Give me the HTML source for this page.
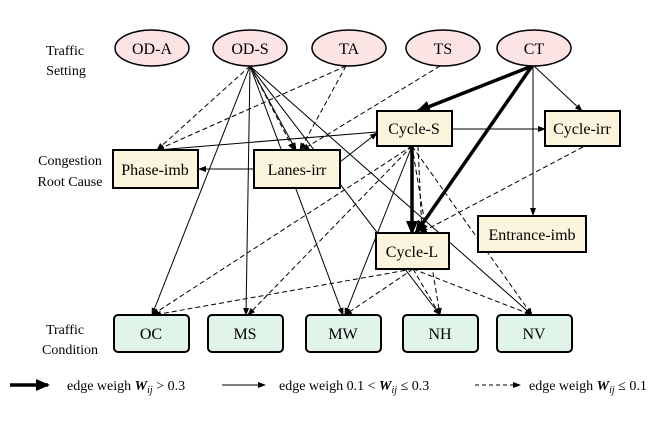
<!DOCTYPE html>
<html><head><style>body{margin:0;background:#fff}svg{display:block}text{font-family:"Liberation Serif",serif}</style></head>
<body>
<svg width="665" height="439" viewBox="0 0 665 439" xmlns="http://www.w3.org/2000/svg">
<defs>
<marker id="a" markerWidth="8" markerHeight="8" refX="7" refY="4" orient="auto" markerUnits="userSpaceOnUse"><path d="M0,1 L8,4 L0,7z" fill="#000"/></marker>
<marker id="b" markerWidth="14" markerHeight="12" refX="12" refY="6" orient="auto" markerUnits="userSpaceOnUse"><path d="M0,0 L14,6 L0,12z" fill="#000"/></marker>
</defs>
<g stroke="#000" stroke-width="1" fill="none" marker-end="url(#a)">
<line x1="534" y1="66" x2="582" y2="111"/>
<line x1="533" y1="66" x2="533" y2="215"/>
<line x1="452" y1="129" x2="545" y2="129"/>
<line x1="377" y1="132" x2="157" y2="150"/>
<line x1="254" y1="169" x2="199" y2="169"/>
<line x1="340" y1="162" x2="377" y2="133"/>
<line x1="250" y1="66" x2="152" y2="315"/>
<line x1="250" y1="66" x2="246" y2="315"/>
<line x1="250" y1="66" x2="296" y2="150"/>
<line x1="250" y1="66" x2="343" y2="315"/>
<line x1="250" y1="66" x2="440" y2="315"/>
<line x1="250" y1="66" x2="532" y2="315"/>
<line x1="412" y1="146" x2="345" y2="315"/>
</g>
<g stroke="#000" stroke-width="1" fill="none" stroke-dasharray="5,3" marker-end="url(#a)">
<line x1="250" y1="66" x2="157" y2="150"/>
<line x1="346" y1="66" x2="157" y2="150"/>
<line x1="346" y1="66" x2="300" y2="150"/>
<line x1="440" y1="66" x2="302" y2="150"/>
<line x1="250" y1="66" x2="294" y2="150"/>
<line x1="412" y1="146" x2="152" y2="315"/>
<line x1="412" y1="146" x2="248" y2="315"/>
<line x1="412" y1="146" x2="440" y2="315"/>
<line x1="412" y1="146" x2="532" y2="315"/>
<line x1="418" y1="146" x2="422" y2="233"/>
<line x1="583" y1="147" x2="420" y2="233"/>
<line x1="413" y1="269" x2="154" y2="315"/>
<line x1="413" y1="269" x2="345" y2="315"/>
<line x1="413" y1="269" x2="440" y2="315"/>
<line x1="413" y1="269" x2="532" y2="315"/>
</g>
<g stroke="#000" stroke-width="3.5" fill="none" marker-end="url(#b)">
<line x1="532" y1="66" x2="418" y2="111"/>
<line x1="532" y1="66" x2="416" y2="233"/>
<line x1="412" y1="146" x2="412" y2="233"/>
</g>
<g stroke="#000" stroke-width="1.5" fill="#fce4e4">
<ellipse cx="152" cy="48" rx="37" ry="18"/>
<ellipse cx="250" cy="48" rx="37" ry="18"/>
<ellipse cx="349" cy="48" rx="37" ry="18"/>
<ellipse cx="443" cy="48" rx="37" ry="18"/>
<ellipse cx="534" cy="48" rx="37" ry="18"/>
</g>
<g stroke="#000" stroke-width="2" fill="#fdf4dd">
<rect x="377" y="111" width="75" height="35"/>
<rect x="545" y="111" width="75" height="35"/>
<rect x="113" y="150" width="85" height="38"/>
<rect x="254" y="150" width="86" height="38"/>
<rect x="478" y="216" width="108" height="36"/>
<rect x="376" y="233" width="73" height="36"/>
</g>
<g stroke="#000" stroke-width="2" fill="#e0f4ea">
<rect x="114" y="315" width="75" height="37" rx="4"/>
<rect x="208" y="315" width="75" height="37" rx="4"/>
<rect x="306" y="315" width="75" height="37" rx="4"/>
<rect x="403" y="315" width="75" height="37" rx="4"/>
<rect x="497" y="315" width="75" height="37" rx="4"/>
</g>
<g font-size="16" text-anchor="middle" fill="#000">
<text x="152" y="54">OD-A</text><text x="250" y="54">OD-S</text><text x="349" y="54">TA</text><text x="443" y="54">TS</text><text x="534" y="54">CT</text>
<text x="414" y="134">Cycle-S</text><text x="582" y="134">Cycle-irr</text><text x="155" y="175">Phase-imb</text><text x="297" y="175">Lanes-irr</text>
<text x="532" y="240">Entrance-imb</text><text x="412" y="257">Cycle-L</text>
<text x="151" y="339">OC</text><text x="245" y="339">MS</text><text x="343" y="339">MW</text><text x="440" y="339">NH</text><text x="534" y="339">NV</text>
</g>
<g font-size="14" text-anchor="middle" fill="#000">
<text x="65" y="55">Traffic</text><text x="66" y="75">Setting</text>
<text x="70" y="165">Congestion</text><text x="70" y="186">Root Cause</text>
<text x="65" y="334">Traffic</text><text x="70" y="354">Condition</text>
</g>
<g stroke="#000" fill="none">
<line x1="10" y1="385" x2="48" y2="385" stroke-width="3.5" marker-end="url(#b)"/>
<line x1="222" y1="385" x2="265" y2="385" stroke-width="1" marker-end="url(#a)"/>
<line x1="475" y1="385" x2="520" y2="385" stroke-width="1" stroke-dasharray="4,3" marker-end="url(#a)"/>
</g>
<g font-size="14" fill="#000">
<text x="67" y="390">edge weigh <tspan font-weight="bold" font-style="italic">W</tspan><tspan font-style="italic" font-size="10" dy="3">ij</tspan><tspan dy="-3"> &gt; 0.3</tspan></text>
<text x="279" y="390">edge weigh 0.1 &lt; <tspan font-weight="bold" font-style="italic">W</tspan><tspan font-style="italic" font-size="10" dy="3">ij</tspan><tspan dy="-3"> ≤ 0.3</tspan></text>
<text x="529" y="390">edge weigh <tspan font-weight="bold" font-style="italic">W</tspan><tspan font-style="italic" font-size="10" dy="3">ij</tspan><tspan dy="-3"> ≤ 0.1</tspan></text>
</g>
</svg>
</body></html>
